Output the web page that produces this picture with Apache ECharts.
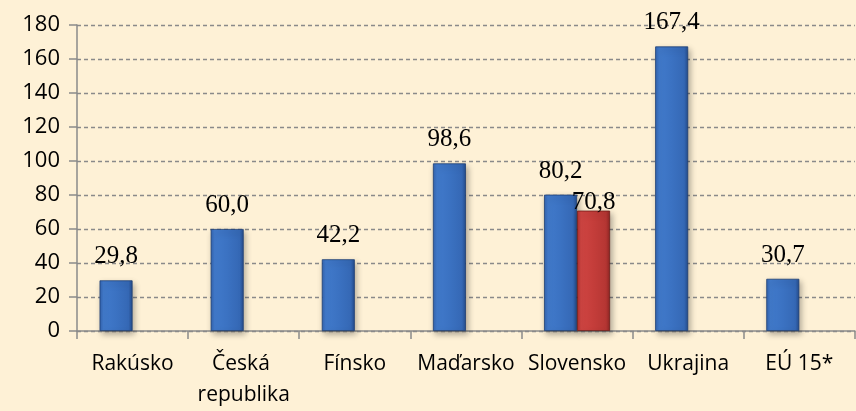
<!DOCTYPE html>
<html>
<head>
<meta charset="utf-8">
<script src="https://cdn.jsdelivr.net/npm/echarts@6/dist/echarts.min.js"></script>
<style>
html,body{margin:0;padding:0;background:#FEF1D6;}
#chart{width:856px;height:411px;}
</style>
</head>
<body>
<div id="chart"></div>
<script>
const categories = ['Rakúsko', 'Česká republika', 'Fínsko', 'Maďarsko', 'Slovensko', 'Ukrajina', 'EÚ 15*'];
const seriesMain = [29.8, 60.0, 42.2, 98.6, 80.2, 167.4, 30.7];
const seriesSlovakia = [null, null, null, null, 70.8, null, null];
const yTicks = { min: 0, max: 180, interval: 20 };

const fmt = p => p.value == null ? '' : p.value.toFixed(1).replace('.', ',');

const blueGrad = new echarts.graphic.LinearGradient(0, 0, 1, 0, [
  { offset: 0, color: '#3364b0' },
  { offset: 0.12, color: '#417acb' },
  { offset: 0.5, color: '#3b72c2' },
  { offset: 0.88, color: '#3568b5' },
  { offset: 1, color: '#244c8c' }
]);
const redGrad = new echarts.graphic.LinearGradient(0, 0, 1, 0, [
  { offset: 0, color: '#ad2f2c' },
  { offset: 0.12, color: '#cf4542' },
  { offset: 0.5, color: '#c43d3a' },
  { offset: 0.88, color: '#b53633' },
  { offset: 1, color: '#8e2523' }
]);

const chart = echarts.init(document.getElementById('chart'), null, { renderer: 'canvas' });
chart.setOption({
  backgroundColor: '#FEF1D6',
  animation: false,
  grid: { left: 77, right: -3, top: 25, bottom: 79, containLabel: false },
  xAxis: {
    type: 'category',
    data: categories,
    axisLine: { lineStyle: { color: '#8a8a8a', width: 1.5 } },
    axisTick: { show: true, length: 8, lineStyle: { color: '#8a8a8a', width: 1.5 } },
    axisLabel: {
      interval: 0,
      color: '#000',
      fontFamily: 'Open Sans',
      fontSize: 21,
      lineHeight: 31,
      margin: 18,
      width: 108,
      overflow: 'break'
    }
  },
  yAxis: {
    type: 'value',
    min: yTicks.min,
    max: yTicks.max,
    interval: yTicks.interval,
    axisLine: { show: true, lineStyle: { color: '#8a8a8a', width: 1.5 } },
    axisTick: { show: true, length: 8, lineStyle: { color: '#8a8a8a', width: 1.5 } },
    axisLabel: { color: '#000', fontFamily: 'Open Sans', fontSize: 22, margin: 17 },
    splitLine: { show: true, lineStyle: { color: '#8a8a8a', type: [4, 3], width: 1.4 } }
  },
  series: [
    {
      type: 'bar',
      data: seriesMain,
      barWidth: 33,
      barGap: '0%',
      itemStyle: {
        color: blueGrad,
        borderColor: '#1e3f74',
        borderWidth: 0.8,
        shadowBlur: 6,
        shadowOffsetX: 2,
        shadowOffsetY: 3,
        shadowColor: 'rgba(0,0,0,0.3)'
      },
      label: {
        show: true,
        position: 'top',
        distance: 11,
        formatter: fmt,
        fontFamily: 'Liberation Serif',
        fontSize: 25,
        color: '#000'
      }
    },
    {
      type: 'bar',
      data: seriesSlovakia,
      barWidth: 33,
      barGap: '0%',
      itemStyle: {
        color: redGrad,
        borderColor: '#6e1a18',
        borderWidth: 0.8,
        shadowBlur: 6,
        shadowOffsetX: 2,
        shadowOffsetY: 3,
        shadowColor: 'rgba(0,0,0,0.3)'
      },
      label: {
        show: true,
        position: 'top',
        distance: -4,
        formatter: fmt,
        fontFamily: 'Liberation Serif',
        fontSize: 25,
        color: '#000'
      }
    }
  ]
});
</script>
</body>
</html>
